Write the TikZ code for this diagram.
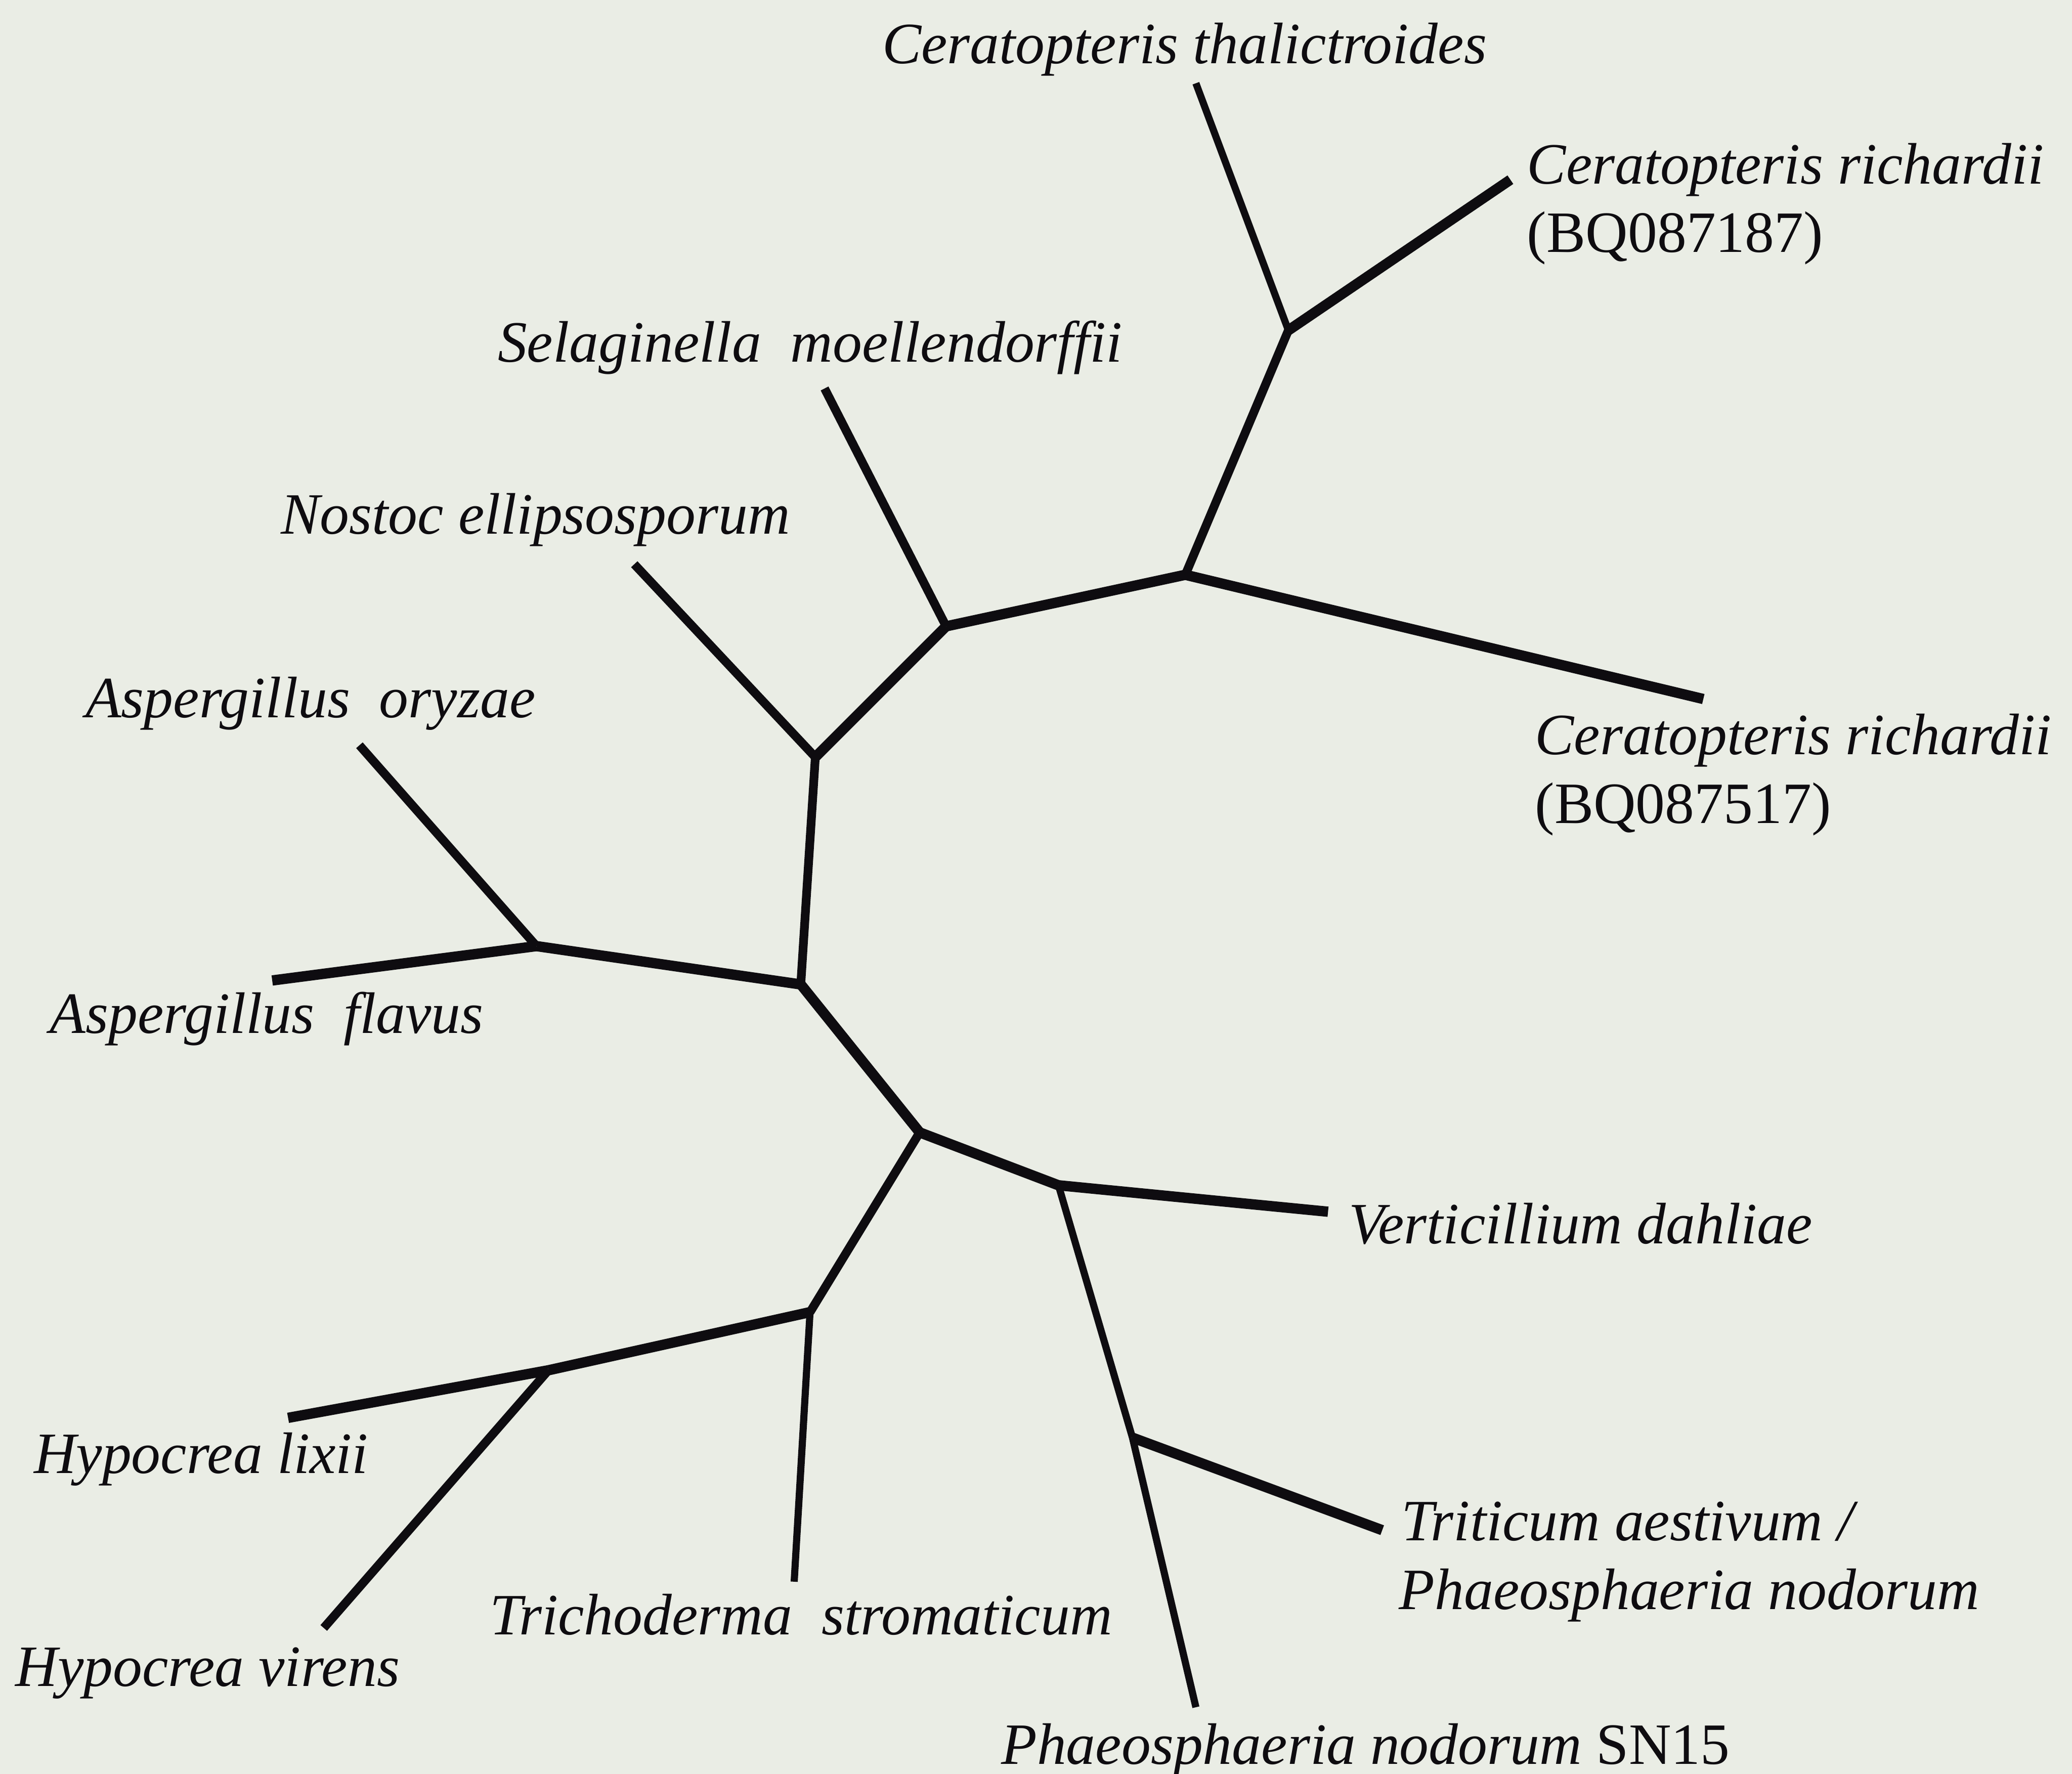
\documentclass[tikz,border=0pt]{standalone}
\usepackage{fontspec}
\setmainfont{Liberation Serif}
\definecolor{bg}{RGB}{234,237,229}
\definecolor{ink}{RGB}{14,12,16}
\begin{document}
\begin{tikzpicture}[x=0.01cm,y=-0.01cm,
  lab/.style={inner sep=0pt,anchor=base west,font=\fontsize{12.6}{15}\selectfont\itshape,text=ink},
  labu/.style={inner sep=0pt,anchor=base west,font=\fontsize{12.6}{15}\selectfont,text=ink},
  thick br/.style={draw=ink,line width=0.078cm},
  mid br/.style={draw=ink,line width=0.066cm},
  thin br/.style={draw=ink,line width=0.054cm}]
\fill[bg] (0,0) rectangle (1568,1342.5);
\useasboundingbox (0,0) rectangle (1568,1342.5);
% internal nodes
\coordinate (A) at (975,250);
\coordinate (B) at (897,435);
\coordinate (C) at (716,474);
\coordinate (D) at (617,573);
\coordinate (E) at (606,745);
\coordinate (F) at (406,716);
\coordinate (G) at (696,857);
\coordinate (H) at (801,897);
\coordinate (I) at (857,1088);
\coordinate (J) at (613,993);
\coordinate (K) at (415,1037);
% tips
\coordinate (tThal) at (905,63);
\coordinate (tRichA) at (1143,136);
\coordinate (tRichB) at (1289,529);
\coordinate (tSel) at (624,294);
\coordinate (tNos) at (480,427);
\coordinate (tOry) at (272,564);
\coordinate (tFla) at (206,742);
\coordinate (tVer) at (1005,917);
\coordinate (tTri) at (1046,1158);
\coordinate (tSN) at (905,1292);
\coordinate (tLix) at (218,1073);
\coordinate (tVir) at (245,1232);
\coordinate (tTrich) at (601,1197);
% branches
\draw[thin br] (A) -- (tThal);
\draw[thick br] (A) -- (tRichA);
\draw[mid br] (A) -- (B);
\draw[thick br] (B) -- (tRichB);
\draw[thick br] (B) -- (C);
\draw[mid br] (C) -- (tSel);
\draw[thick br] (C) -- (D);
\draw[mid br] (D) -- (tNos);
\draw[mid br] (D) -- (E);
\draw[thick br] (E) -- (F);
\draw[mid br] (F) -- (tOry);
\draw[thick br] (F) -- (tFla);
\draw[thick br] (E) -- (G);
\draw[thick br] (G) -- (H);
\draw[thick br] (H) -- (tVer);
\draw[thin br] (H) -- (I);
\draw[thick br] (I) -- (tTri);
\draw[thin br] (I) -- (tSN);
\draw[mid br] (G) -- (J);
\draw[thick br] (J) -- (K);
\draw[thick br] (K) -- (tLix);
\draw[mid br] (K) -- (tVir);
\draw[thin br] (J) -- (tTrich);
% labels
\node[lab] (lThal) at (667,48) {Ceratopteris thalictroides};
\node[lab] (lRichA) at (1155,139) {Ceratopteris richardii};
\node[labu] (lRichAid) at (1155,191) {(BQ087187)};
\node[lab] (lSel) at (376,274) {Selaginella\ \ moellendorffii};
\node[lab] (lNos) at (212,404) {Nostoc ellipsosporum};
\node[lab] (lOry) at (64,543) {Aspergillus\ \ oryzae};
\node[lab] (lRichB) at (1161,571) {Ceratopteris richardii};
\node[labu] (lRichBid) at (1161,623) {(BQ087517)};
\node[lab] (lFla) at (37,782) {Aspergillus\ \ flavus};
\node[lab] (lVer) at (1020,941) {Verticillium dahliae};
\node[lab] (lLix) at (25,1115) {Hypocrea lixii};
\node[lab] (lTri) at (1060,1166) {Triticum aestivum /};
\node[lab] (lPha) at (1058,1218) {Phaeosphaeria nodorum};
\node[lab] (lTrich) at (370,1237) {Trichoderma\ \ stromaticum};
\node[lab] (lVir) at (11,1276) {Hypocrea virens};
\node[lab] (lSN) at (757,1335) {Phaeosphaeria nodorum \upshape SN15};
\end{tikzpicture}
\end{document}
